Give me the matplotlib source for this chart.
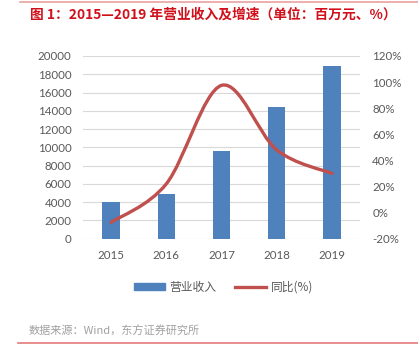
import numpy as np
import matplotlib
matplotlib.use('Agg')
import matplotlib.pyplot as plt
from matplotlib.path import Path
from matplotlib.patches import PathPatch
from matplotlib.lines import Line2D
from matplotlib.patches import Patch

plt.rcParams['font.family'] = ['Noto Sans CJK SC', 'DejaVu Sans']

# 数据
years = ['2015', '2016', '2017', '2018', '2019']
revenue = [4000, 4900, 9630, 14400, 18850]   # 营业收入（百万元）
growth = [-7.5, 22, 97.5, 48, 30]             # 同比(%)

left_ticks = np.arange(0, 20001, 2000)
right_ticks = np.arange(-20, 121, 20)

bar_color = '#4F81BD'
line_color = '#C0504D'
tick_color = '#595959'

fig = plt.figure(figsize=(4.18, 3.58), dpi=100)
ax = fig.add_axes([0.1995, 0.3332, 0.661, 0.5104])
ax2 = ax.twinx()

x = np.arange(len(years))
ax.bar(x, revenue, width=0.31, color=bar_color, zorder=2)
ax.set_xlim(-0.5, len(years) - 0.5)
ax.set_ylim(0, 20000)
ax.set_yticks(left_ticks)
ax.set_yticklabels([str(v) for v in left_ticks])
ax.set_xticks(x)
ax.set_xticklabels(years)
ax.grid(axis='y', color='#D9D9D9', lw=0.8, zorder=0)
ax.set_axisbelow(True)

ax2.set_ylim(-20, 120)
ax2.set_yticks(right_ticks)
ax2.set_yticklabels([f'{v}%' for v in right_ticks])

for a in (ax, ax2):
    for s in a.spines.values():
        s.set_visible(False)
    a.tick_params(length=0, colors=tick_color, labelsize=8.3)
    for lab in a.get_xticklabels() + a.get_yticklabels():
        lab.set_family(['Lato', 'DejaVu Sans'])
ax.tick_params(axis='y', pad=8.5)
ax.tick_params(axis='x', pad=8)
ax2.tick_params(axis='y', pad=9)

# 平滑曲线（Catmull-Rom 转贝塞尔）
pts = np.column_stack([x, growth]).astype(float)
verts = [pts[0]]
codes = [Path.MOVETO]
n = len(pts)
for i in range(n - 1):
    p0 = pts[max(i - 1, 0)]
    p1 = pts[i]
    p2 = pts[i + 1]
    p3 = pts[min(i + 2, n - 1)]
    c1 = p1 + (p2 - p0) / 6
    c2 = p2 - (p3 - p1) / 6
    verts += [c1, c2, p2]
    codes += [Path.CURVE4] * 3
ax2.add_patch(PathPatch(Path(verts, codes), fill=False, edgecolor=line_color,
                        lw=2.4, capstyle='round', zorder=3))

# 图例
handles = [Patch(color=bar_color, label='营业收入'),
           Line2D([0], [0], color=line_color, lw=2.4, label='同比(%)')]
fig.legend(handles=handles, loc='center', bbox_to_anchor=(0.535, 0.198), ncol=2,
           frameon=False, fontsize=8.5, labelcolor=tick_color,
           handlelength=2.6, handleheight=0.5, columnspacing=1.6, handletextpad=0.4)

# 标题与来源
fig.text(0.072, 0.958, '图 1：2015—2019 年营业收入及增速（单位：百万元、%）',
         color='#D0101A', fontsize=9.9, fontweight='bold', va='center', ha='left')
fig.add_artist(Line2D([0.048, 1.0], [0.995, 0.995], color='#EBA0A0', lw=1.2))
fig.text(0.069, 0.075, '数据来源：Wind，东方证券研究所', color='#A0A0A0',
         fontsize=8.0, va='center', ha='left')
fig.add_artist(Line2D([0.043, 1.0], [0.042, 0.042], color='#E47A7A', lw=1.2))

fig.savefig('out.png', dpi=100)
